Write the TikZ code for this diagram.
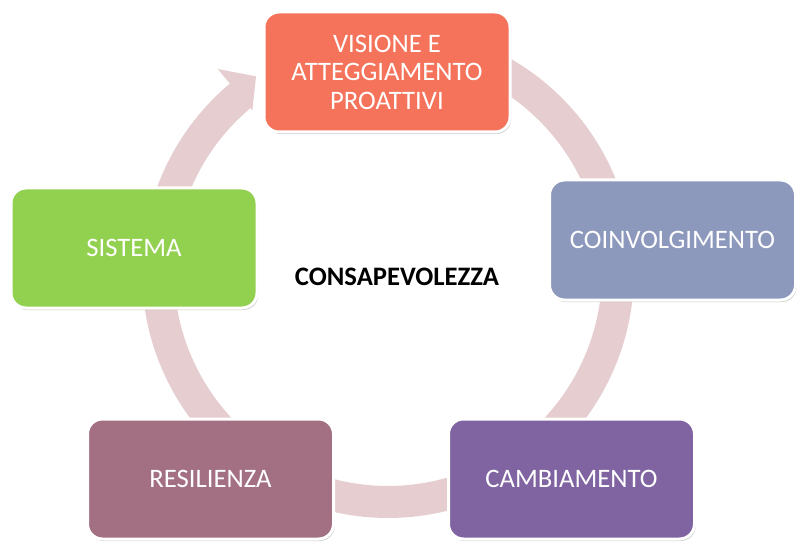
\documentclass[tikz,border=0pt]{standalone}
\usepackage{fontspec}
\setmainfont{Carlito}
\usetikzlibrary{calc,shadows}
\definecolor{ringc}{HTML}{E6CDD0}
\definecolor{cvis}{HTML}{F4735A}
\definecolor{ccoin}{HTML}{8D98BD}
\definecolor{ccamb}{HTML}{8064A2}
\definecolor{cres}{HTML}{A26F83}
\definecolor{csis}{HTML}{92D050}
\begin{document}
\begin{tikzpicture}[x=1pt,y=-1pt,
  box/.style={draw=white, line width=3pt, rounded corners=15pt,
    minimum width=246pt, minimum height=120pt, text=white, inner sep=0pt,
    font=\fontsize{26.67}{28.5}\selectfont, align=center,
    drop shadow={shadow xshift=1.2pt, shadow yshift=-2pt, fill=black!45, opacity=0.45}},
  centertext/.style={font=\fontsize{26.67}{30}\selectfont\bfseries, text=black}]
\useasboundingbox[fill=white] (0,0) rectangle (807,559);
\coordinate (c) at (388,272);
% circular arrow
\draw[ringc, line width=32pt] plot[domain=-75:230.5, samples=200] ({388+230*cos(\x)},{272+230*sin(\x)});
\coordinate (hb1) at ($(c)+(230:265)$);
\coordinate (htip) at ($(c)+(236:236)$);
\coordinate (hb2) at ($(c)+(230:211)$);
\fill[ringc] (hb1) -- (htip) -- (hb2) -- cycle;
% boxes
\node[box, fill=cvis] (vis) at (387,72) {VISIONE E\\ATTEGGIAMENTO\\PROATTIVI};
\node[box, fill=ccoin] (coin) at (672.5,240) {COINVOLGIMENTO};
\node[box, fill=ccamb] (camb) at (571.5,479) {CAMBIAMENTO};
\node[box, fill=cres] (res) at (210.5,479) {RESILIENZA};
\node[box, fill=csis] (sis) at (134,248) {SISTEMA};
\node[centertext] (cons) at (397,277) {CONSAPEVOLEZZA};
\end{tikzpicture}
\end{document}
